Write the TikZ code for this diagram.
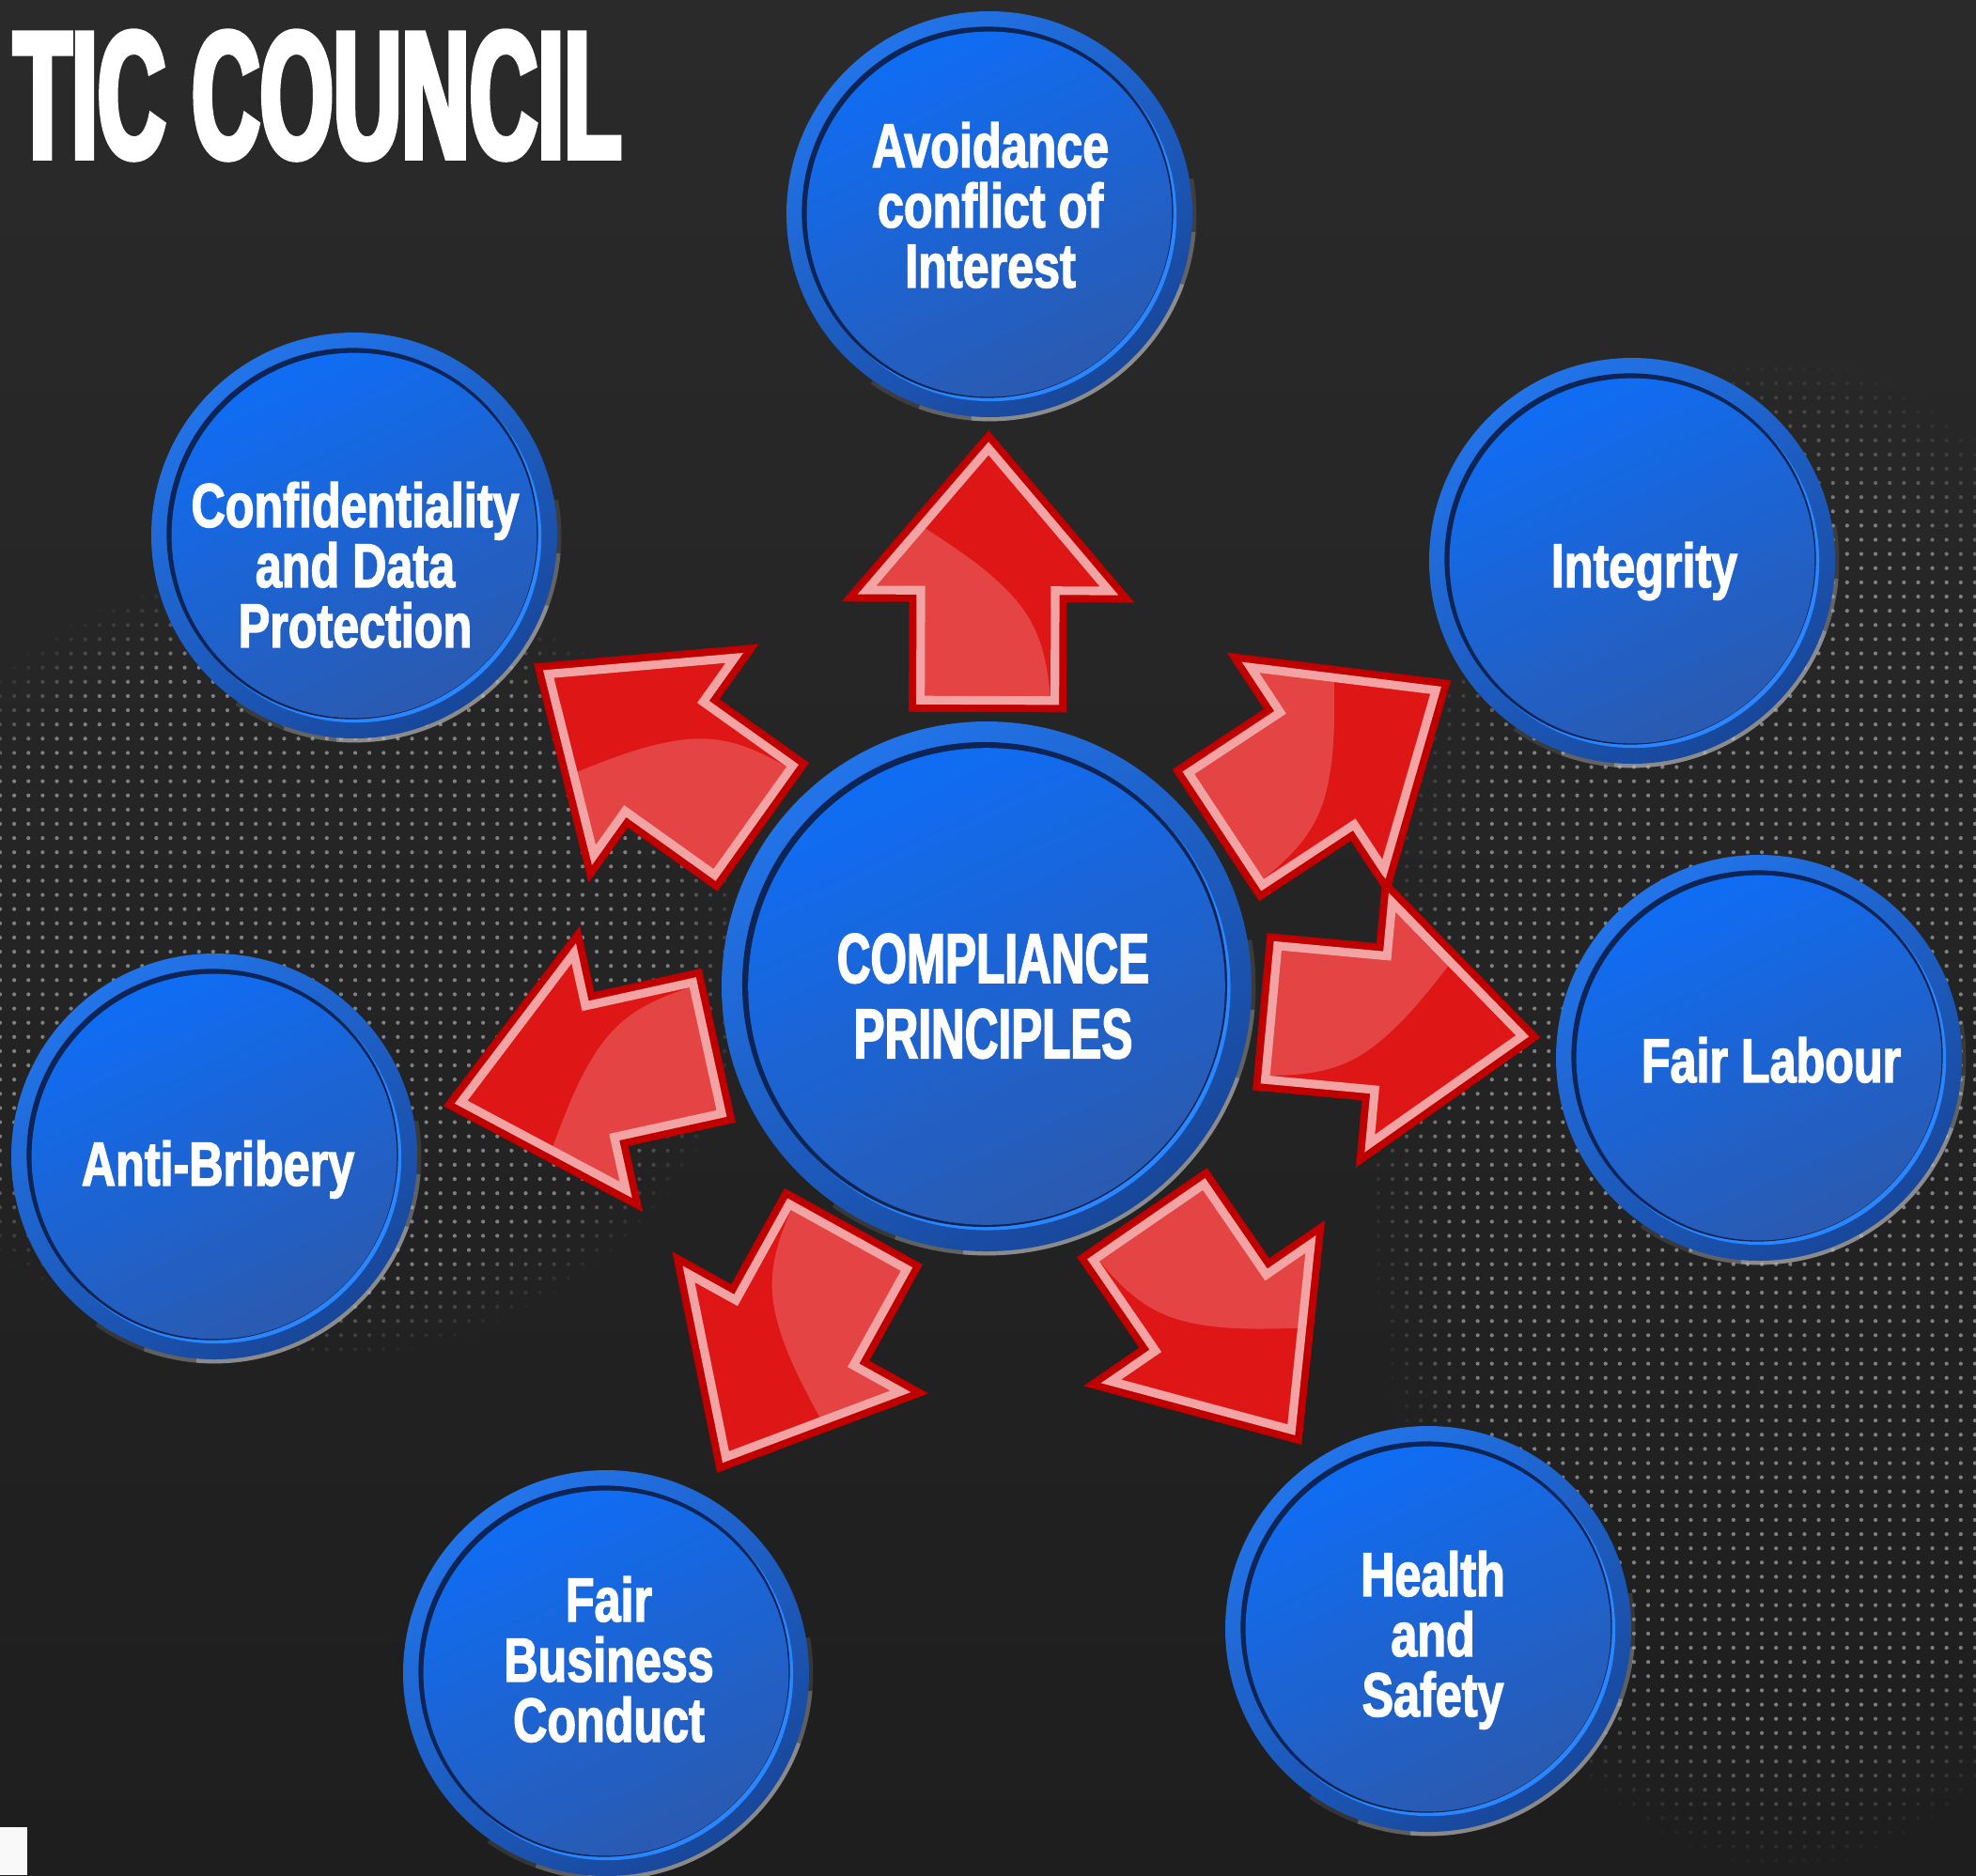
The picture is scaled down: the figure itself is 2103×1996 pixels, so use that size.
\documentclass[tikz,border=0pt]{standalone}
\usepackage{fontspec}
\newfontfamily\titlefont[FakeStretch=0.52,FakeBold=3]{Liberation Sans Bold}
\newfontfamily\labelfont[FakeStretch=0.76,FakeBold=2]{Liberation Sans Bold}
\newfontfamily\corefont[FakeStretch=0.66,FakeBold=2]{Liberation Sans Bold}
\usetikzlibrary{calc,fadings,patterns.meta}

\definecolor{bgtop}{HTML}{2A2A2A}
\definecolor{bgbot}{HTML}{1E1E1E}
\definecolor{ringblue}{HTML}{2274EA}
\definecolor{ringdeep}{HTML}{18479A}
\definecolor{rimnavy}{HTML}{0E2454}
\definecolor{disctop}{HTML}{0F6DF4}
\definecolor{discbot}{HTML}{2A5AB0}
\definecolor{bevel}{HTML}{2A86FF}
\definecolor{arrowdark}{HTML}{C00000}
\definecolor{arrowpink}{HTML}{F2A3A3}
\definecolor{arrowred}{HTML}{DE1616}

% outline of one arrow, pointing along +x, tail 292 from the hub
\newcommand\arrowoutline{(304.5,-71.5) -- (421.5,-71.5) -- (421.5,-128.9) -- (572.7,0)
  -- (421.5,128.9) -- (421.5,71.5) -- (304.5,71.5) -- cycle}

\tikzset{
  pics/disc/.style={code={
    % pale rim light on the lower right
    \foreach \a/\b/\o in {-20/-95/.45, -5/-110/.3, 10/-125/.15}
      \draw[gray!50!white, line width=2.5pt, opacity=\o] (\a:#1) arc[start angle=\a, end angle=\b, radius=#1];
    \shade[top color=ringblue, bottom color=ringdeep, shading angle=35] (0,0) circle (#1);
    % bright edge below right, dark edge above left
    \fill[bevel] (1.5,-1.5) circle ({0.915*#1});
    \fill[rimnavy] (-2,2) circle ({0.915*#1});
    \shade[top color=disctop, bottom color=discbot, shading angle=25] (0,0) circle ({0.9*#1});
  }},
  pics/bigarrow/.style={code={
    \draw[arrowdark, line width=7.1pt, line join=miter] \arrowoutline;
    \fill[arrowred] \arrowoutline;
    \begin{scope}
      \clip \arrowoutline;
      % glossy half
      \fill[white, opacity=.2] (515,110) .. controls (470,40) and (452,10) .. (422,-20)
        .. controls (387,-55) and (352,-64) .. (292,-68) -- (262,-68) -- (262,220) -- (515,220) -- cycle;
    \end{scope}
    \draw[arrowpink, line width=2.6pt, line join=miter] \arrowoutline;
  }}
}

\begin{document}
\begin{tikzpicture}[x=0.01cm, y=0.01cm,
    lbl/.style={text=white, align=center, text depth=0pt, inner sep=0pt,
      font={\labelfont\fontsize{18.8pt}{18.2pt}\selectfont}},
    corelbl/.style={lbl, font={\corefont\fontsize{21.3pt}{22.8pt}\selectfont}}]
  \useasboundingbox (0,0) rectangle (2103,-1996);
  \shade[top color=bgtop, bottom color=bgbot] (0,0) rectangle (2103,-1996);

  % halftone dots
  \fill[pattern={Dots[distance=4.3pt, radius=0.6pt]}, pattern color=gray,
    path fading=circle with fuzzy edge 20 percent] (-150,-600) rectangle (800,-1450);
  \fill[pattern={Dots[distance=4.3pt, radius=0.6pt]}, pattern color=gray,
    path fading=circle with fuzzy edge 20 percent] (1450,-380) rectangle (2350,-1990);

  \node[anchor=base west, text=white, inner sep=0pt,
    font={\titlefont\fontsize{54.9pt}{60pt}\selectfont}] (title) at (14,-168) {TIC COUNCIL};

  % hub and principles
  \coordinate (core) at (1050,-1050);
  \coordinate (avoid) at (1053,-228);
  \coordinate (conf) at (377,-570);
  \coordinate (integ) at (1737,-597);
  \coordinate (labour) at (1872,-1126);
  \coordinate (bribe) at (228,-1231);
  \coordinate (business) at (645,-1781);
  \coordinate (health) at (1520,-1734);

  \pic at (core) {disc=282};
  \foreach \t in {avoid,conf,integ,labour,bribe,business,health}
    \pic at (\t) {disc=216};

  \foreach \t in {avoid,integ,labour,health,business,bribe,conf}
    \path let \p1 = ($(\t)-(core)$), \n1 = {atan2(\y1,\x1)} in
      pic[rotate=\n1] at (core) {bigarrow};

  \node[corelbl] (core-t) at (1057,-1060) {COMPLIANCE\\PRINCIPLES};
  \node[lbl] (avoid-t) at (1054,-218) {Avoidance\\conflict of\\Interest};
  \node[lbl] (conf-t) at (378,-601) {Confidentiality\\and Data\\Protection};
  \node[lbl] (integ-t) at (1750,-601) {Integrity};
  \node[lbl] (labour-t) at (1885,-1128) {Fair Labour};
  \node[lbl] (bribe-t) at (232,-1238) {Anti-Bribery};
  \node[lbl] (business-t) at (648,-1766) {Fair\\Business\\Conduct};
  \node[lbl] (health-t) at (1525,-1739) {Health\\and\\Safety};

  \fill[white!95!gray] (0,-1945) rectangle (29,-1996);
\end{tikzpicture}
\end{document}
